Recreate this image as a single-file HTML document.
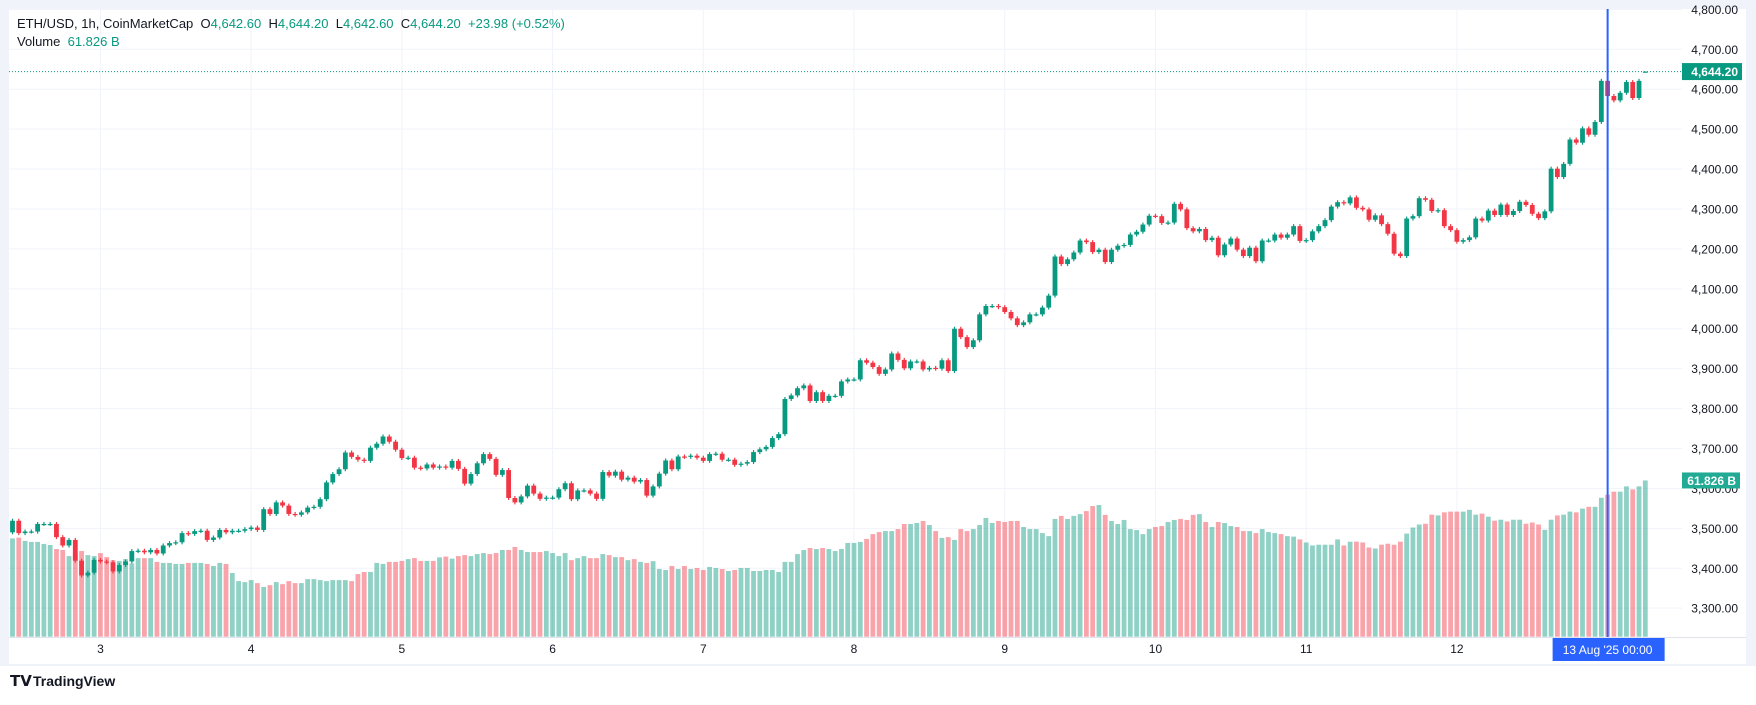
<!DOCTYPE html>
<html><head><meta charset="utf-8">
<style>
html,body{margin:0;padding:0;background:#fff;}
body{width:1756px;height:700px;overflow:hidden;font-family:"Liberation Sans",sans-serif;}
svg text{font-family:"Liberation Sans",sans-serif;}
</style></head>
<body>
<svg id="chart" width="1756" height="700" viewBox="0 0 1756 700" xmlns="http://www.w3.org/2000/svg">
  <rect x="0" y="0" width="1756" height="700" fill="#ffffff"/>
  <rect x="0" y="0" width="1756" height="9" fill="#f0f3fa"/>
  <rect x="0" y="0" width="9" height="665" fill="#f0f3fa"/>
  <rect x="1746" y="0" width="10" height="665" fill="#f0f3fa"/>
  <rect x="0" y="664" width="1756" height="2" fill="#f0f3fa"/>
  <g id="grid"></g>
  <g id="volumes"></g>
  <g id="candles"></g>
  <g id="axes"></g>
  <g font-size="13">
    <text x="17" y="28" fill="#131722" xml:space="preserve">ETH/USD, 1h, CoinMarketCap  O<tspan fill="#089981">4,642.60</tspan>  H<tspan fill="#089981">4,644.20</tspan>  L<tspan fill="#089981">4,642.60</tspan>  C<tspan fill="#089981">4,644.20</tspan>  <tspan fill="#089981">+23.98 (+0.52%)</tspan></text>
    <text x="17" y="46" fill="#131722" xml:space="preserve">Volume  <tspan fill="#089981">61.826 B</tspan></text>
  </g>
  <g>
    <text x="10" y="686" font-size="15" font-weight="bold" fill="#131722">𝗧𝗩</text>
    <text x="33" y="686" font-size="14" font-weight="bold" fill="#131722">TradingView</text>
  </g>
</svg>
<script>
const closes = [
3519,3488,3492,3492,3511,3511,3511,3478,3457,3471,3419,3382,3389,3421,
3417,3415,3392,3408,3417,3443,3444,3440,3446,3437,3457,3463,3465,3488,3486,3493,3494,3471,3477,3496,3490,3494,3494,3498,
3502,3496,3548,3536,3565,3557,3536,3534,3540,3552,3554,3573,3615,3636,3648,3690,3679,3672,3669,3702,3712,3730,3717,3697,
3676,3677,3652,3650,3660,3652,
3655,3652,3669,3649,3612,3636,3663,3686,3674,3634,3646,3576,3565,3580,3607,3587,3574,3577,
3577,3598,3613,3573,3595,3595,3587,3574,3641,3632,3642,3622,3627,3617,3621,3582,3605,3637,3670,3648,3680,3679,3682,3677,
3669,3686,3687,3672,3672,3659,3662,3666,3691,3698,3704,3726,3736,3824,3833,3851,3858,3819,3841,3819,3832,3832,3868,3873,
3873,3921,3915,3904,3887,3898,3938,3922,3901,3918,3918,3898,3902,3900,3921,3894,4000,3979,3954,3971,4036,4057,4057,4054,
4042,4026,4009,4016,4036,4036,4053,4083,4181,4162,4174,4191,4221,4217,4192,4198,4167,4198,4208,4210,4236,4243,4261,4283,
4282,4265,4266,4313,4299,4252,4244,4250,4222,4228,4184,4211,4226,4198,4182,4203,4169,4221,4221,4236,4228,4236,4257,4220,
4222,4244,4257,4272,4306,4317,4314,4329,4303,4299,4273,4284,4262,4238,4188,4182,4276,4282,4327,4323,4295,4297,4257,4247,
4218,4222,4229,4276,4271,4296,4285,4311,4285,4295,4318,4310,4288,4277,4294,4401,4380,4413,4474,4466,4502,4486,4518,4621,
4583,4572,4591,4618,4578,4621,4644.2
];
const firstOpen = 3490;
const lastOpen = 4642.6;
const volumes = [
38.9,39.2,37.9,37.5,37.5,36.7,36.3,34.7,34.3,31.9,33.1,33.9,32.3,31.9,
33.1,31.5,30.3,30.0,30.7,29.0,31.1,31.1,31.1,29.6,29.2,29.2,28.8,28.8,29.2,29.2,29.2,28.8,28.0,29.2,28.8,25.2,22.0,21.6,
22.4,21.2,19.7,20.4,21.6,20.8,22.0,21.2,21.2,22.8,22.8,22.4,22.0,22.4,22.4,22.4,22.0,24.8,25.6,25.6,29.2,28.8,29.6,29.6,
30.0,30.7,31.1,30.0,30.0,30.0,
31.4,31.7,30.9,31.9,32.3,31.9,32.7,33.1,32.7,33.1,34.3,34.3,35.5,34.3,33.5,33.5,33.5,33.9,
33.1,31.9,33.1,30.3,31.1,31.9,31.1,31.1,32.7,32.3,31.5,31.5,30.3,30.7,29.6,29.2,29.9,26.8,26.4,28.0,26.8,28.0,26.8,27.2,
26.4,27.6,27.2,26.8,26.0,26.4,27.2,27.2,26.0,26.0,26.4,26.4,25.6,29.6,29.6,32.7,34.3,35.1,34.7,35.1,34.7,33.9,34.7,37.1,
37.1,37.5,38.7,40.6,41.4,41.8,41.8,42.6,44.6,44.6,45.0,45.8,44.2,41.8,39.1,39.4,38.3,42.6,41.8,42.6,44.2,47.0,45.0,45.8,
45.4,45.8,45.8,43.4,42.6,42.6,41.0,39.8,46.6,47.8,46.6,47.8,48.5,49.7,51.7,52.1,48.2,45.8,44.6,46.2,42.6,42.2,40.6,42.6,
43.4,43.8,45.4,46.2,46.6,46.2,48.2,48.5,45.4,43.4,45.4,45.0,43.8,43.4,41.8,41.8,41.0,42.6,41.4,41.0,40.6,39.8,39.6,38.5,
37.3,36.1,36.4,36.4,36.4,38.5,36.1,37.6,37.6,37.3,35.3,34.9,36.4,36.8,36.4,37.6,40.8,43.2,44.4,44.7,48.3,48.0,49.2,49.5,
49.5,49.5,50.2,48.3,48.7,47.5,45.9,46.3,45.6,46.3,46.3,44.7,45.2,44.4,42.3,46.3,48.0,48.3,49.5,49.2,50.7,51.4,51.4,55.0,
56.2,57.4,57.4,59.5,58.3,59.5,61.826
];
const priceTicks = [4800,4700,4600,4500,4400,4300,4200,4100,4000,3900,3800,3700,3600,3500,3400,3300];
const dayLabels = ["3","4","5","6","7","8","9","10","11","12"];
const dayStartIdx = [14,38,62,86,110,134,158,182,206,230];
const lastPrice = 4644.2;
const lastVolumeLabel = "61.826 B";
const markerIdx = 254;

const NS="http://www.w3.org/2000/svg";
const X0=12.5, DX=6.28;
function xOf(i){return X0+i*DX;}
function yOf(p){return 49.3+(4700-p)*0.3992;}
function yVol(v){return 636.7-v*2.527;}
function mk(tag,attrs,parent){const e=document.createElementNS(NS,tag);for(const k in attrs)e.setAttribute(k,attrs[k]);parent.appendChild(e);return e;}
function fmt(p){return p.toLocaleString("en-US",{minimumFractionDigits:2,maximumFractionDigits:2});}

const grid=document.getElementById("grid"), vg=document.getElementById("volumes"), cg=document.getElementById("candles"), ax=document.getElementById("axes");
const PLOT_L=9, PLOT_R=1682, PLOT_T=9, PLOT_B=637;

priceTicks.forEach(p=>{
  const y=yOf(p); if(y<PLOT_T-10||y>PLOT_B) return;
  if(y>PLOT_T){
  const l=mk("line",{x1:PLOT_L,x2:PLOT_R,y1:y,y2:y,stroke:"#f0f3fa","stroke-width":1},grid);
  
  }
  const t=mk("text",{x:1738,y:y+4.5,"text-anchor":"end","font-size":"12",fill:"#131722"},ax);
  t.textContent=fmt(p);
  
  
});
dayStartIdx.forEach((idx,k)=>{
  const x=xOf(idx);
  const l=mk("line",{x1:x,x2:x,y1:PLOT_T,y2:PLOT_B,stroke:"#f0f3fa","stroke-width":1},grid);
  
  
  const t=mk("text",{x:x,y:653,"text-anchor":"middle","font-size":"12",fill:"#131722"},ax);
  t.textContent=dayLabels[k];
  
  
});
mk("line",{x1:PLOT_L,x2:1746,y1:PLOT_B+0.5,y2:PLOT_B+0.5,stroke:"#e0e3eb","stroke-width":1},ax);

let prev=firstOpen;
closes.forEach((c,i)=>{
  const o=(i===closes.length-1)?lastOpen:prev; prev=c;
  const up=c>=o;
  const x=xOf(i);
  const vb=mk("rect",{x:x-2.4,y:yVol(volumes[i]),width:4.8,height:636.7-yVol(volumes[i]),fill:up?"rgba(8,153,129,0.45)":"rgba(242,54,69,0.45)"},vg);
  
  
  const col=up?"#089981":"#f23645";
  const last=(i===closes.length-1);
  const hi=Math.max(o,c)+(last?0:5), lo=Math.min(o,c)-(last?0:5);
  const w=mk("line",{x1:x,x2:x,y1:yOf(hi),y2:yOf(lo),stroke:col,"stroke-width":1.2},cg);
  
  
  const yt=yOf(Math.max(o,c)), yb=yOf(Math.min(o,c));
  const b=mk("rect",{x:x-2.4,y:yt,width:4.8,height:Math.max(1.2,yb-yt),fill:col},cg);
  
  
});

const ly=yOf(lastPrice);
const pl=mk("line",{x1:PLOT_L,x2:PLOT_R,y1:ly,y2:ly,stroke:"#089981","stroke-width":1,"stroke-dasharray":"1 2"},ax);


const pb=mk("rect",{x:1682,y:ly-8.5,width:60,height:17,fill:"#089981"},ax);


const pt=mk("text",{x:1738,y:ly+4.5,"text-anchor":"end","font-size":"12","font-weight":"bold",fill:"#fff"},ax);
pt.textContent=fmt(lastPrice);


const vy=yVol(volumes[volumes.length-1]);
const vbg=mk("rect",{x:1682,y:vy-8,width:58,height:16,fill:"#22ab94"},ax);


const vt=mk("text",{x:1736,y:vy+4.5,"text-anchor":"end","font-size":"12","font-weight":"bold",fill:"#fff"},ax);
vt.textContent=lastVolumeLabel;



const mx=xOf(markerIdx);
const cl=mk("line",{x1:mx,x2:mx,y1:PLOT_T,y2:PLOT_B,stroke:"#2962ff","stroke-width":2},ax);


const cb=mk("rect",{x:mx-55,y:638,width:112,height:23,fill:"#2962ff"},ax);


const ct=mk("text",{x:mx,y:654,"text-anchor":"middle","font-size":"12",fill:"#fff","xml:space":"preserve"},ax);
ct.textContent="13 Aug '25   00:00";


</script>
</body></html>
